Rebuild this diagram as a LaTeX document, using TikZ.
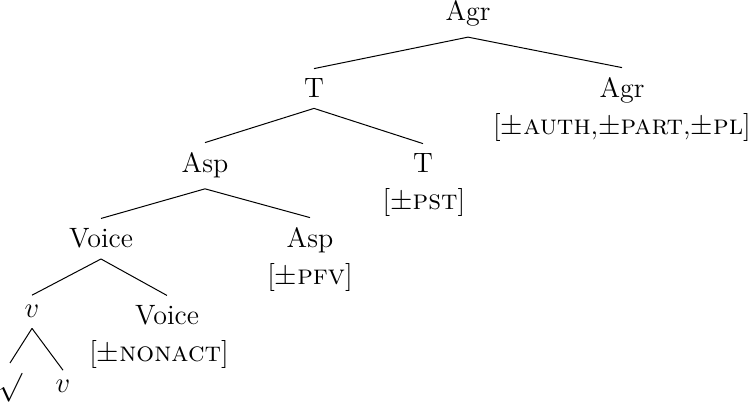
\documentclass[tikz,border=0pt]{standalone}
\usepackage{tikz}

\begin{document}
\begin{tikzpicture}[x=0.5pt, y=-0.5pt,
		every node/.style={font=\fontsize{14}{16}\selectfont, inner sep=5pt, anchor=base},
		branch/.style={line width=0.5pt}]
			%%%%% START %%%%%
			\useasboundingbox (0, 0) rectangle (750, 410);
			
			\node (agr) at (468, 21) {Agr};
			
			\node (t) at (314, 98) {T};
			\node (agrhead) at (622, 98) {Agr};
			\node (agrfeat) at (622, 135) {[$\pm$\textsc{auth},$\pm$\textsc{part},$\pm$\textsc{pl}]};
			
			\node (asp) at (205, 173) {Asp};
			\node (thead) at (423, 173) {T};
			\node (tfeat) at (424, 210) {[$\pm$\textsc{pst}]};
			
			\node (voice) at (101, 248) {Voice};
			\node (asphead) at (310, 248) {Asp};
			\node (aspfeat) at (310, 285) {[$\pm$\textsc{pfv}]};
			
			\node (v) at (32, 318) {$v$};
			\node (voicehead) at (167, 325) {Voice};
			\node (voicefeat) at (159, 362) {[$\pm$\textsc{nonact}]};
			
			\node (root) at (10, 395) {$\surd$};
			\node (vhead) at (63, 393) {$v$};
			
			\draw[branch] (agr.south) -- (t.north);
			\draw[branch] (agr.south) -- (agrhead.north);
			\draw[branch] (t.south) -- (asp.north);
			\draw[branch] (t.south) -- (thead.north);
			\draw[branch] (asp.south) -- (voice.north);
			\draw[branch] (asp.south) -- (asphead.north);
			\draw[branch] (voice.south) -- (v.north);
			\draw[branch] (voice.south) -- (voicehead.north);
			\draw[branch] (v.south) -- (root.north);
			\draw[branch] (v.south) -- (vhead.north);
			
			%%%%% END %%%%%
\end{tikzpicture}
\end{document}
